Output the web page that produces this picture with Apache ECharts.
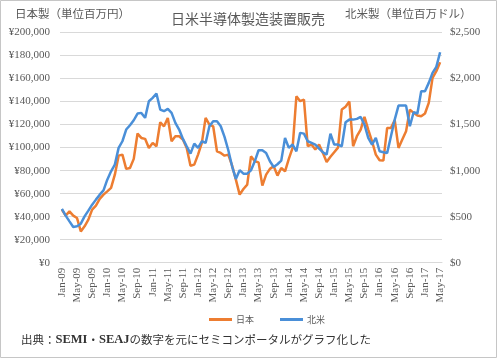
<!DOCTYPE html>
<html>
<head>
<meta charset="utf-8">
<script src="https://cdn.jsdelivr.net/npm/echarts@6/dist/echarts.min.js"></script>
<style>
html,body{margin:0;padding:0;background:#fff;}
#chart{width:497px;height:358px;}
</style>
</head>
<body>
<div id="chart"></div>
<script>
const months = ['Jan','Feb','Mar','Apr','May','Jun','Jul','Aug','Sep','Oct','Nov','Dec'];
const years = ['09','10','11','12','13','14','15','16','17'];
const categories = [];
years.forEach(function (y) {
  months.forEach(function (m) {
    if (categories.length < 101) categories.push(m + '-' + y);
  });
});

// 日本 (百万円), Jan-09 .. May-17
const japan = [
  46100, 40900, 44600, 40900, 38800, 27200, 31600, 37400, 46100, 49600, 55400, 59100,
  62000, 65000, 76500, 93000, 93900, 81500, 82300, 90200, 112200, 108400, 107600, 99700,
  104100, 101200, 122000, 118500, 125800, 105500, 109900, 109900, 107000, 99700, 84300, 85200,
  93900, 104100, 125800, 120000, 118500, 96800, 95400, 93000, 93900, 84300, 72200, 59100,
  64000, 67800, 92400, 88100, 87200, 67000, 76500, 81500, 83800, 75700, 82300, 79400,
  90200, 99700, 144600, 140300, 141700, 101200, 102600, 98300, 102600, 95400, 87500, 92000,
  96000, 100000, 133000, 135500, 140000, 101200, 109900, 115700, 126700, 115700, 105500, 93900,
  89000, 88700, 117100, 117100, 123800, 99700, 107000, 114200, 133000, 130200, 127800, 127200,
  129600, 138900, 160600, 166400, 174200
];

// 北米 (百万ドル), Jan-09 .. May-17
const northAmerica = [
  584, 511, 449, 388, 395, 424, 503, 565, 630, 685, 739, 786,
  902, 993, 1065, 1247, 1319, 1446, 1493, 1547, 1620, 1627, 1573, 1753,
  1790, 1837, 1663, 1645, 1670, 1627, 1518, 1446, 1344, 1264, 1185, 1293,
  1247, 1319, 1301, 1482, 1536, 1536, 1482, 1366, 1221, 1047, 910, 1005,
  967, 967, 1003, 1101, 1221, 1221, 1192, 1101, 1040, 1069, 1109, 1355,
  1247, 1283, 1210, 1410, 1402, 1319, 1301, 1283, 1239, 1200, 1174, 1402,
  1283, 1283, 1264, 1525, 1554, 1554, 1562, 1583, 1500, 1355, 1283, 1355,
  1210, 1199, 1192, 1373, 1554, 1706, 1706, 1706, 1482, 1634, 1620, 1862,
  1862, 1953, 2062, 2127, 2286
];

const leftMax = 200000, leftStep = 20000;
const rightMax = 2500, rightStep = 500;

const cjk = 'Noto Sans CJK JP';
const serif = 'Liberation Serif';
const grey = '#595959';

const chart = echarts.init(document.getElementById('chart'), null, {renderer: 'canvas'});
chart.setOption({
  animation: false,
  backgroundColor: '#ffffff',
  title: [
    {
      text: '日米半導体製造装置販売',
      left: 243, top: 7, textAlign: 'center',
      textStyle: {fontFamily: cjk, fontSize: 14, fontWeight: 'normal', color: grey}
    },
    {
      text: '{a|出典：}{b|SEMI}{a|・}{b|SEAJ}{a|の数字を元にセミコンポータルがグラフ化した}',
      left: 16, top: 328,
      textStyle: {
        fontWeight: 'normal',
        rich: {
          a: {fontFamily: cjk, fontSize: 11.5, fontWeight: 'normal', color: '#333333'},
          b: {fontFamily: serif, fontSize: 12.5, fontWeight: 'bold', color: '#333333'}
        }
      }
    }
  ],
  legend: {
    left: 204, top: 310,
    itemWidth: 23, itemHeight: 3, itemGap: 26,
    icon: 'rect',
    textStyle: {fontFamily: cjk, fontSize: 9, color: grey, padding: [0, 0, 0, -1]},
    data: ['日本', '北米']
  },
  graphic: [
    {
      type: 'rect', silent: true,
      shape: {x: 0.5, y: 0.5, width: 496, height: 357},
      style: {fill: 'none', stroke: '#c6c6c6', lineWidth: 1}
    },
    {
      type: 'text', left: 15, top: 8,
      style: {text: '日本製（単位百万円）', font: '11.5px "Noto Sans CJK JP"', fill: grey}
    },
    {
      type: 'text', left: 345, top: 8,
      style: {text: '北米製（単位百万ドル）', font: '11.5px "Noto Sans CJK JP"', fill: grey}
    }
  ],
  grid: {left: 60, right: 55, top: 32.5, bottom: 95.3, containLabel: false},
  xAxis: {
    type: 'category',
    data: categories,
    boundaryGap: true,
    axisLine: {show: true, lineStyle: {color: '#d9d9d9', width: 1}},
    axisTick: {show: false},
    axisLabel: {
      interval: 3, rotate: 90, margin: 5,
      fontFamily: serif, fontSize: 11, color: grey
    },
    splitLine: {show: false}
  },
  yAxis: [
    {
      type: 'value', position: 'left',
      min: 0, max: leftMax, interval: leftStep,
      axisLine: {show: false}, axisTick: {show: false},
      axisLabel: {
        margin: 10, fontFamily: serif, fontSize: 11, color: grey,
        formatter: function (v) { return '¥' + v.toLocaleString('en-US'); }
      },
      splitLine: {lineStyle: {color: '#d9d9d9', width: 1}}
    },
    {
      type: 'value', position: 'right',
      min: 0, max: rightMax, interval: rightStep,
      axisLine: {show: false}, axisTick: {show: false},
      axisLabel: {
        margin: 8, fontFamily: serif, fontSize: 11, color: grey,
        formatter: function (v) { return '$' + v.toLocaleString('en-US'); }
      },
      splitLine: {show: false}
    }
  ],
  series: [
    {
      name: '日本', type: 'line', yAxisIndex: 0,
      data: japan, showSymbol: false, symbol: 'none',
      lineStyle: {color: '#ED7D31', width: 2.5},
      itemStyle: {color: '#ED7D31'}
    },
    {
      name: '北米', type: 'line', yAxisIndex: 1,
      data: northAmerica, showSymbol: false, symbol: 'none',
      lineStyle: {color: '#4A8FD8', width: 2.5},
      itemStyle: {color: '#4A8FD8'}
    }
  ]
});
</script>
</body>
</html>
